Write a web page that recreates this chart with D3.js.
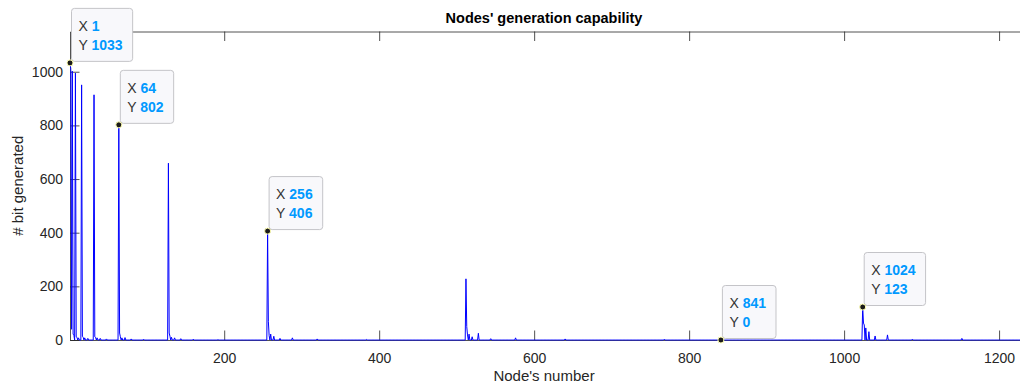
<!DOCTYPE html>
<html>
<head>
<meta charset="utf-8">
<script src="https://cdn.jsdelivr.net/npm/d3@7"></script>
<style>
  html, body { margin: 0; padding: 0; background: #fff; }
  svg { display: block; font-family: "Liberation Sans", Arial, Helvetica, sans-serif; }
</style>
</head>
<body>
<svg id="chart" width="1020" height="386"></svg>
<script>
// Number of nodes in the network
const nodeCount = 1227;

// Nodes that generated at least one bit (all others generated 0)
const activeNodes = [
  1, 2, 3, 4, 5, 6, 8, 9, 10, 12, 16, 17, 18, 20, 24, 32, 33, 34, 36, 40, 48,
  64, 65, 66, 68, 72, 80, 96, 128, 129, 130, 132, 136, 144, 160, 192,
  256, 257, 258, 260, 264, 272, 288, 320, 384,
  512, 513, 514, 516, 520, 528, 544, 576, 640, 768,
  1024, 1025, 1026, 1028, 1032, 1040, 1056, 1088, 1152
];
const bitsGenerated = [
  1033, 1012, 40, 1002, 22, 18, 995, 12, 10, 8, 951, 14, 10, 8, 6, 914, 12, 10, 8, 6, 4,
  802, 26, 12, 8, 9, 4, 3, 659, 26, 14, 10, 8, 5, 3, 2,
  406, 68, 16, 22, 14, 6, 8, 4, 2,
  228, 50, 19, 22, 12, 25, 5, 8, 4, 3,
  123, 63, 56, 45, 31, 15, 19, 3, 6
];

// Axis ticks
const xTicks = [200, 400, 600, 800, 1000, 1200];
const yTicks = [0, 200, 400, 600, 800, 1000];

// Highlighted data tips
const tipNodes = [1, 64, 256, 841, 1024];

// Full series, one value per node
const lookup = new Map(activeNodes.map((n, i) => [n, bitsGenerated[i]]));
const series = d3.range(1, nodeCount + 1).map(n => ({ node: n, bits: lookup.get(n) || 0 }));

const svg = d3.select("#chart");
const plotLeft = 70, plotRight = 1020, plotTop = 31.5, plotBottom = 340;

const x = d3.scaleLinear().domain([1, nodeCount]).range([plotLeft, plotRight]);
const y = d3.scaleLinear().domain([0, 1150]).range([plotBottom, plotTop]);

const axisColor = "#262626";

// Axes box
const xAxis = svg.append("g")
  .attr("transform", `translate(0,${plotBottom})`)
  .call(d3.axisBottom(x).tickValues(xTicks).tickFormat(d3.format("d"))
    .tickSizeInner(-9.5).tickSizeOuter(0).tickPadding(13));
const xTop = svg.append("g")
  .attr("transform", `translate(0,${plotTop})`)
  .call(d3.axisTop(x).tickValues(xTicks).tickFormat("")
    .tickSizeInner(-9.5).tickSizeOuter(0));
const yAxis = svg.append("g")
  .attr("transform", `translate(${plotLeft},0)`)
  .call(d3.axisLeft(y).tickValues(yTicks).tickFormat(d3.format("d"))
    .tickSizeInner(-9.5).tickSizeOuter(0).tickPadding(7));

[xAxis, xTop, yAxis].forEach(g => {
  g.select(".domain").attr("stroke", axisColor).attr("stroke-width", 0.8);
  g.selectAll(".tick line").attr("stroke", axisColor).attr("stroke-width", 0.8);
  g.selectAll(".tick text").attr("fill", axisColor)
    .style("font-size", "14px").style("font-family", "Liberation Sans, Arial, sans-serif");
});

// Data line
svg.append("path")
  .datum(series)
  .attr("fill", "none")
  .attr("stroke", "#0000ff")
  .attr("stroke-width", 1)
  .attr("stroke-linejoin", "miter")
  .attr("d", d3.line().x(d => x(d.node)).y(d => y(d.bits)));

// Title and axis labels
svg.append("text")
  .attr("x", (plotLeft + 1018) / 2).attr("y", 23)
  .attr("text-anchor", "middle")
  .attr("fill", "#000")
  .style("font-size", "14.5px").style("font-weight", "bold")
  .text("Nodes' generation capability");

svg.append("text")
  .attr("x", (plotLeft + 1018) / 2).attr("y", 381)
  .attr("text-anchor", "middle")
  .attr("fill", axisColor)
  .style("font-size", "15px")
  .text("Node's number");

svg.append("text")
  .attr("transform", `translate(23,${(plotTop + plotBottom) / 2}) rotate(-90)`)
  .attr("text-anchor", "middle")
  .attr("fill", axisColor)
  .style("font-size", "15px")
  .text("# bit generated");

// Data tips
const tips = svg.append("g");
tipNodes.forEach(n => {
  const d = series[n - 1];
  const px = x(d.node), py = y(d.bits);
  const g = tips.append("g").attr("transform", `translate(${px + 1.5},${py - 1.5})`);
  const box = g.append("rect");
  const t1 = g.append("text").attr("x", 7).attr("y", -53 + 22.7).style("font-size", "14px");
  t1.append("tspan").attr("fill", "#333").text("X ");
  t1.append("tspan").attr("fill", "rgb(0,153,255)").style("font-weight", "bold").text(d.node);
  const t2 = g.append("text").attr("x", 7).attr("y", -53 + 41.7).style("font-size", "14px");
  t2.append("tspan").attr("fill", "#333").text("Y ");
  t2.append("tspan").attr("fill", "rgb(0,153,255)").style("font-weight", "bold").text(d.bits);
  const w = Math.max(t1.node().getComputedTextLength(), t2.node().getComputedTextLength()) + 17;
  box.attr("x", 0).attr("y", -53).attr("width", w).attr("height", 53)
    .attr("rx", 3).attr("ry", 3)
    .attr("fill", "#f8f8fb").attr("stroke", "#c4c4c8").attr("stroke-width", 1);
  tips.append("circle")
    .attr("cx", px).attr("cy", py).attr("r", 3)
    .attr("fill", "#1a1a1a").attr("stroke", "#ffffb0").attr("stroke-width", 1);
});
</script>
</body>
</html>
